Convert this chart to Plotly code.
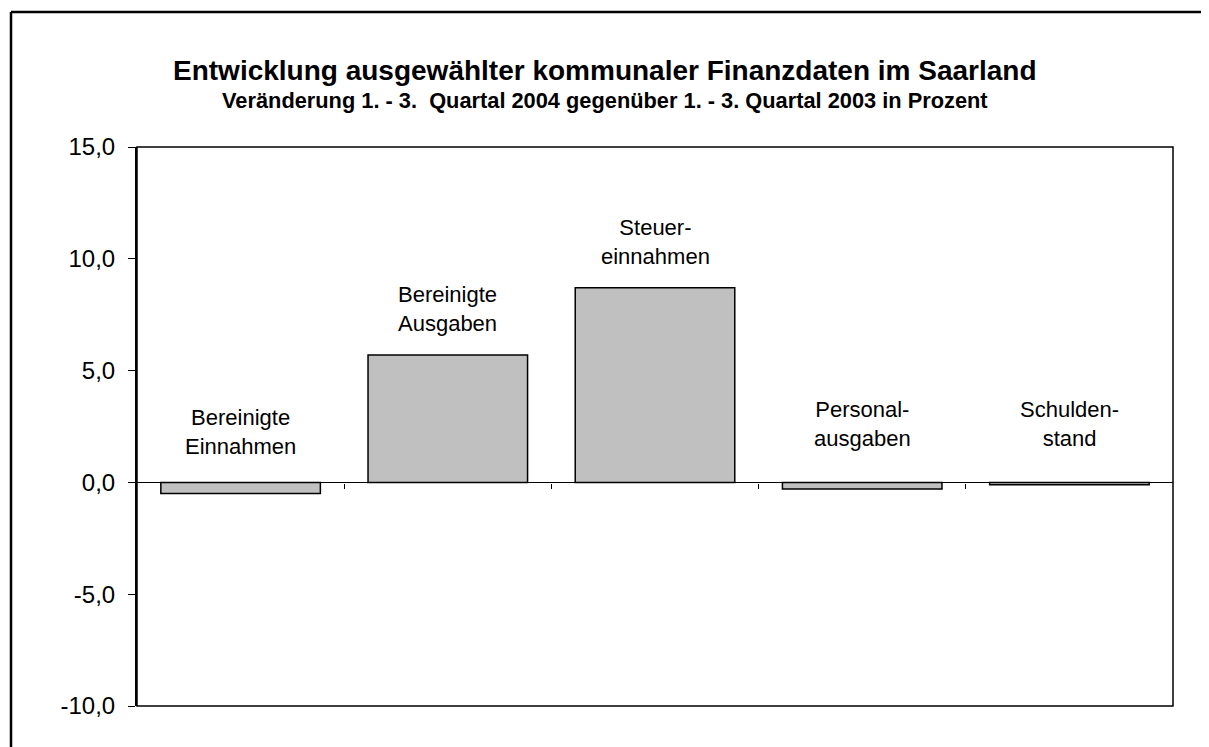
import plotly.graph_objects as go

# ---- data ----
categories = ["Bereinigte<br>Einnahmen", "Bereinigte<br>Ausgaben", "Steuer-<br>einnahmen",
              "Personal-<br>ausgaben", "Schulden-<br>stand"]
values = [-0.5, 5.7, 8.7, -0.3, -0.1]
y_ticks = [-10, -5, 0, 5, 10, 15]
y_tick_labels = ["-10,0", "-5,0", "0,0", "5,0", "10,0", "15,0"]

title = "Entwicklung ausgewählter kommunaler Finanzdaten im Saarland"
subtitle = "Veränderung 1. - 3.  Quartal 2004 gegenüber 1. - 3. Quartal 2003 in Prozent"

FONT = "Liberation Sans, Arial, sans-serif"
OFF = 8  # browser body margin
PW, PH = 1209, 747
W, H = PW - OFF, PH - OFF
L, R, T, B = 137 - OFF, 36, 147 - OFF, 41
pw, ph = W - L - R, H - T - B

x_pos = list(range(len(categories)))

fig = go.Figure()
fig.add_trace(go.Bar(
    x=x_pos, y=values, width=0.77,
    marker=dict(color="#c0c0c0", line=dict(color="#000000", width=1.5)),
    hoverinfo="skip", showlegend=False,
))

# category labels inside plot (label placement offsets above bar end / zero line)
label_offsets = [2.25, 2.05, 2.05, 2.63, 2.63]
for i, (c, v) in enumerate(zip(categories, values)):
    fig.add_annotation(x=i, y=max(v, 0) + label_offsets[i], text=c, showarrow=False,
                       xref="x", yref="y", yanchor="middle",
                       font=dict(family=FONT, size=22, color="#000"), align="center")

# page-pixel to paper conversion
def px_x(p):
    return (p - OFF - L) / pw

def px_y(p):
    return (H - B - (p - OFF)) / ph

fig.add_annotation(x=px_x(605), y=px_y(70), xref="paper", yref="paper", text="<b>" + title + "</b>",
                   showarrow=False, font=dict(family=FONT, size=28, color="#000"),
                   xanchor="center", yanchor="middle")
fig.add_annotation(x=px_x(605), y=px_y(101), xref="paper", yref="paper", text="<b>" + subtitle + "</b>",
                   showarrow=False, font=dict(family=FONT, size=21.8, color="#000"),
                   xanchor="center", yanchor="middle")

# plot-area frame
fig.add_shape(type="rect", xref="paper", yref="paper", x0=0, x1=1, y0=0, y1=1,
              line=dict(color="#000", width=1.5), layer="above")
# outer chart frame (cut at right/bottom)
fig.add_shape(type="line", xref="paper", yref="paper", x0=px_x(11), x1=px_x(1215),
              y0=px_y(12), y1=px_y(12), line=dict(color="#000", width=2.5))
fig.add_shape(type="line", xref="paper", yref="paper", x0=px_x(11), x1=px_x(11),
              y0=px_y(12), y1=px_y(760), line=dict(color="#000", width=2.5))

ymin, ymax = -10, 15
fig.update_layout(
    width=W, height=H,
    margin=dict(l=L, r=R, t=T, b=B, autoexpand=False),
    paper_bgcolor="white", plot_bgcolor="white",
    separators=",.",
    xaxis=dict(range=[-0.5, len(categories) - 0.5], anchor="free",
               position=(0 - ymin) / (ymax - ymin),
               showline=True, linecolor="#000", linewidth=1.2,
               ticks="outside", ticklen=5, tickwidth=1, tickcolor="#000",
               tickvals=[i + 0.5 for i in range(len(categories) - 1)],
               showticklabels=False, showgrid=False, zeroline=False, fixedrange=True),
    yaxis=dict(range=[ymin, ymax], tickvals=y_ticks, ticktext=y_tick_labels,
               showline=True, linecolor="#000", linewidth=2,
               ticks="outside", ticklen=7, tickwidth=1.2, tickcolor="#000",
               ticklabelstandoff=8,
               tickfont=dict(family=FONT, size=24, color="#000"),
               showgrid=False, zeroline=False, fixedrange=True),
)

fig.write_html("out.html")
